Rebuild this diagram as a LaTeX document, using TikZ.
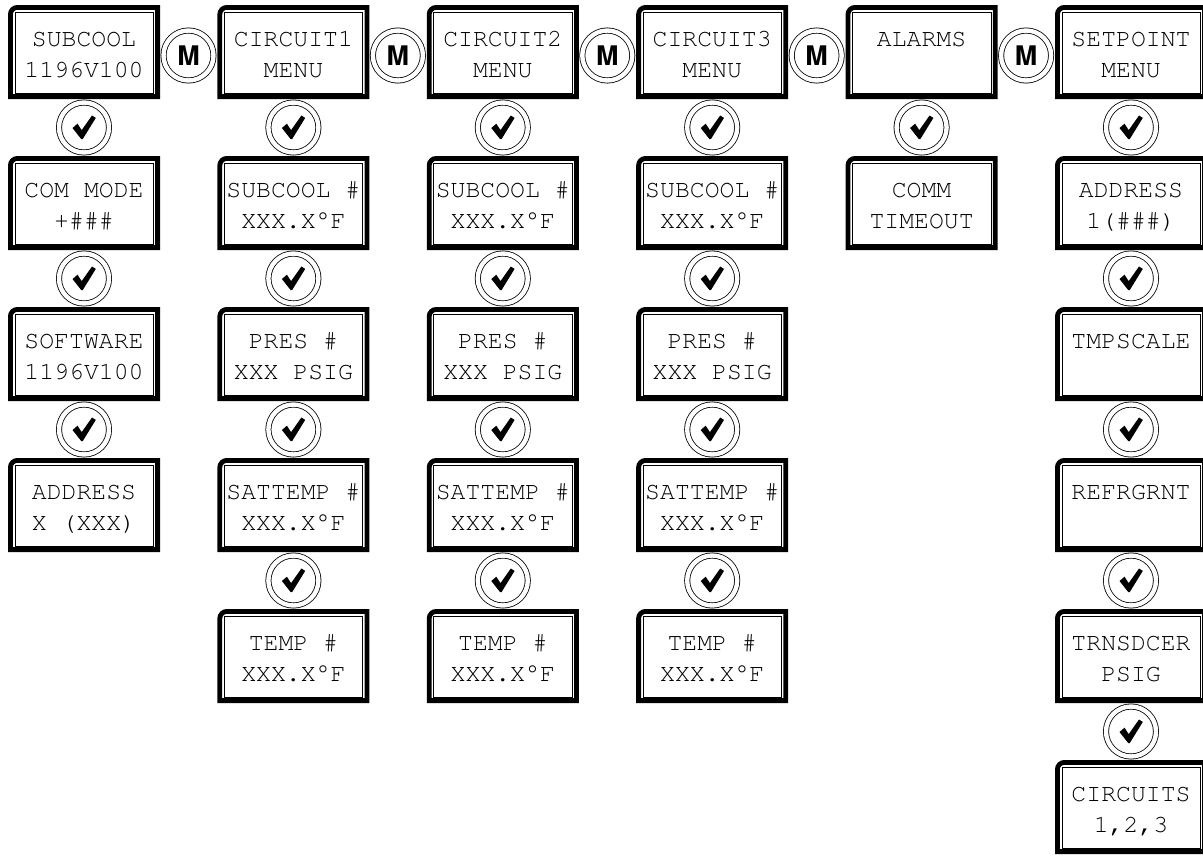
\documentclass[tikz,border=0pt]{standalone}
\usepackage[T1]{fontenc}
\usepackage{textcomp}
\tikzset{
  panel/.style={minimum width=152pt, minimum height=94pt, inner sep=0pt, outer sep=0pt},
  frameout/.style={line width=4.8pt},
  framein/.style={line width=0.9pt},
  txt/.style={anchor=base, inner sep=0pt, outer sep=0pt, font=\fontsize{24.8}{24.8}\fontfamily{pcr}\selectfont},
  btn/.style={circle, draw, double, double distance=4.4pt, line width=0.8pt, minimum size=50pt, inner sep=0pt},
  chk/.style={btn, path picture={
      \fill ([shift={(-11.5pt,-0.5pt)}]path picture bounding box.center)
         -- ([shift={(-6.5pt,3.8pt)}]path picture bounding box.center)
         -- ([shift={(-2.3pt,-2.6pt)}]path picture bounding box.center)
         -- ([shift={(8pt,12pt)}]path picture bounding box.center)
         -- ([shift={(11.8pt,9.6pt)}]path picture bounding box.center)
         -- ([shift={(-1.2pt,-11.5pt)}]path picture bounding box.center)
         -- ([shift={(-2.8pt,-11.5pt)}]path picture bounding box.center) -- cycle;}},
  mbtn/.style={btn, font=\fontsize{27}{27}\fontfamily{phv}\fontseries{b}\selectfont},
}
\newcommand\panelbox[5]{% name, left, top, line1, line2
  \node[panel] (#1) at (#2+76, #3+47) {};
  \draw[frameout] ([shift={(2.4pt,2.4pt)}]#1.south west) -- ([shift={(2.4pt,-9.4pt)}]#1.north west)
     arc[start angle=180, end angle=90, radius=7pt] -- ([shift={(-2.4pt,-2.4pt)}]#1.north east)
     -- ([shift={(-2.4pt,2.4pt)}]#1.south east) -- cycle;
  \draw[framein] ([shift={(7pt,6pt)}]#1.south west) rectangle ([shift={(-6.5pt,-7pt)}]#1.north east);
  \node[txt] (#1a) at ([yshift=6pt]#1.center) {#4};
  \node[txt] (#1b) at ([yshift=-25pt]#1.center) {#5};
}
\begin{document}
\begin{tikzpicture}[x=1pt,y=-1pt]
\useasboundingbox (0,0) rectangle (1203,855);
% column 0
\panelbox{a0}{8}{5}{SUBCOOL}{1196V100}
\panelbox{a1}{8}{156}{COM MODE}{+\#\#\#}
\panelbox{a2}{8}{307}{SOFTWARE}{1196V100}
\panelbox{a3}{8}{458}{ADDRESS}{X (XXX)}
\node[chk] (ka1) at (84,127.5) {};
\node[chk] (ka2) at (84,278.5) {};
\node[chk] (ka3) at (84,429.5) {};
% columns 1-3
\foreach \c/\n in {1/b,2/c,3/d}{
  \pgfmathsetmacro\lx{8+209.4*\c}
  \pgfmathsetmacro\cx{84+209.4*\c}
  \panelbox{\n0}{\lx}{5}{CIRCUIT\c}{MENU}
  \panelbox{\n1}{\lx}{156}{SUBCOOL \#}{XXX.X\textdegree F}
  \panelbox{\n2}{\lx}{307}{PRES \#}{XXX PSIG}
  \panelbox{\n3}{\lx}{458}{SATTEMP \#}{XXX.X\textdegree F}
  \panelbox{\n4}{\lx}{609}{TEMP \#}{XXX.X\textdegree F}
  \node[chk] (k\n1) at (\cx,127.5) {};
  \node[chk] (k\n2) at (\cx,278.5) {};
  \node[chk] (k\n3) at (\cx,429.5) {};
  \node[chk] (k\n4) at (\cx,580.5) {};
}
% column 4
\panelbox{e0}{845.6}{5}{ALARMS}{}
\panelbox{e1}{845.6}{156}{COMM}{TIMEOUT}
\node[chk] (ke1) at (921.6,127.5) {};
% column 5
\panelbox{f0}{1055}{5}{SETPOINT}{MENU}
\panelbox{f1}{1055}{156}{ADDRESS}{1(\#\#\#)}
\panelbox{f2}{1055}{307}{TMPSCALE}{}
\panelbox{f3}{1055}{458}{REFRGRNT}{}
\panelbox{f4}{1055}{609}{TRNSDCER}{PSIG}
\panelbox{f5}{1055}{760}{CIRCUITS}{1,2,3}
\node[chk] (kf1) at (1131,127.5) {};
\node[chk] (kf2) at (1131,278.5) {};
\node[chk] (kf3) at (1131,429.5) {};
\node[chk] (kf4) at (1131,580.5) {};
\node[chk] (kf5) at (1131,731.5) {};
% M buttons
\node[mbtn] (m1) at (188.5,55.5) {M};
\node[mbtn] (m2) at (397.9,55.5) {M};
\node[mbtn] (m3) at (607.3,55.5) {M};
\node[mbtn] (m4) at (816.7,55.5) {M};
\node[mbtn] (m5) at (1026.1,55.5) {M};
\end{tikzpicture}
\end{document}
